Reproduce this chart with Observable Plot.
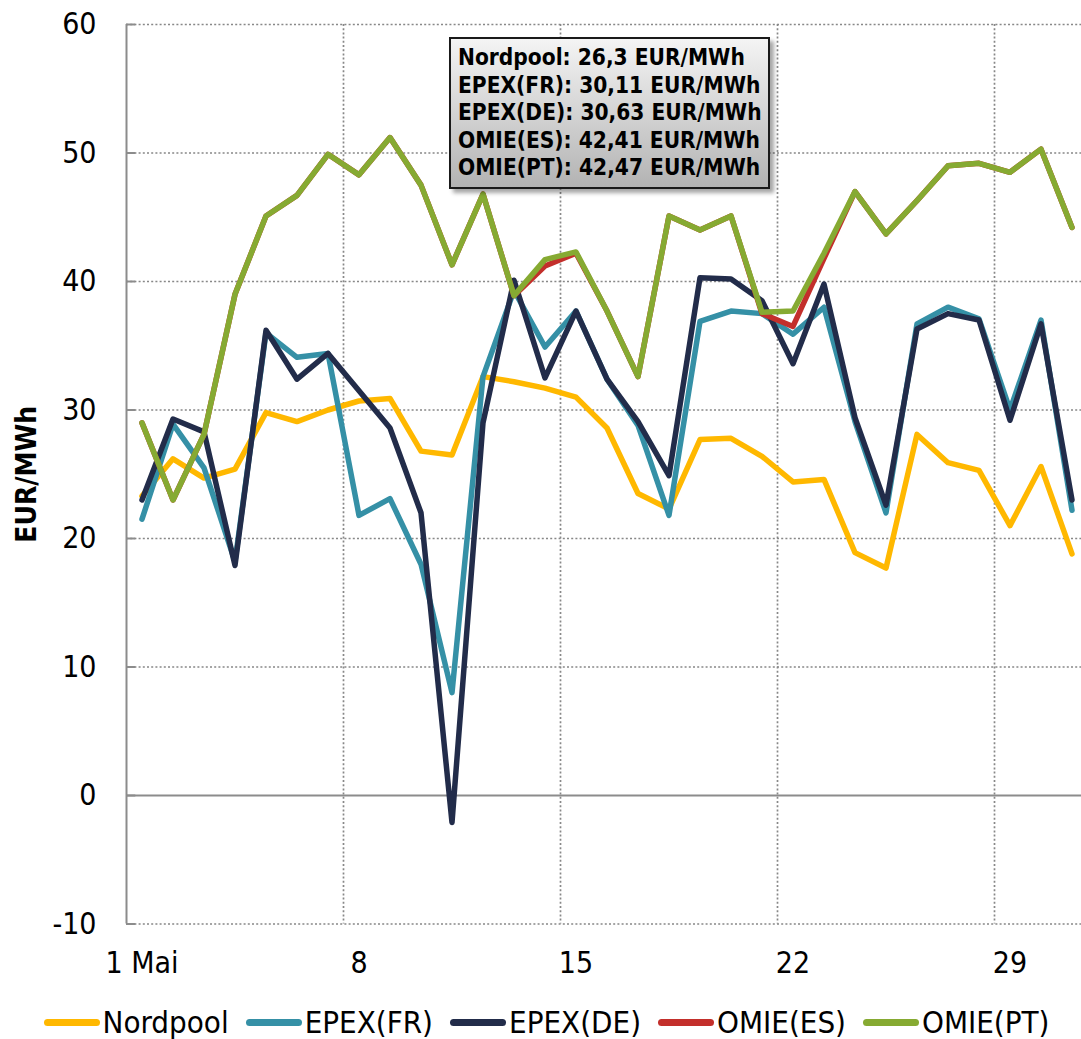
<!DOCTYPE html>
<html><head><meta charset="utf-8">
<script src="https://cdn.jsdelivr.net/npm/d3@7"></script>
<script src="https://cdn.jsdelivr.net/npm/@observablehq/plot@0.6"></script>
<style>
body{margin:0;background:#fff;font-family:"DejaVu Sans Condensed","DejaVu Sans",sans-serif;font-stretch:condensed;}
#wrap{position:relative;width:1081px;height:1039px;overflow:hidden;background:#fff;}
#legend{position:absolute;left:0;top:1004px;width:1081px;height:36px;display:flex;justify-content:center;align-items:center;gap:17px;font-size:31px;color:#000;padding-left:12px;box-sizing:border-box;}
.item{display:flex;align-items:center;gap:3px;white-space:nowrap;}
.sw{width:56px;height:7px;border-radius:3.5px;}
#tip{position:absolute;left:449px;top:37px;width:310px;height:143px;border:2px solid #1a1a1a;background:linear-gradient(#f4f4f4,#b3b3b3);box-shadow:4px 4px 4px rgba(0,0,0,.35);font-weight:bold;font-size:22.5px;line-height:27.5px;padding:5px 0 0 7px;box-sizing:content-box;color:#000;white-space:nowrap;}
</style>
</head><body>
<div id="wrap"><div id="chart"></div><div id="tip"></div><div id="legend"></div></div>
<script>
const days = [1,2,3,4,5,6,7,8,9,10,11,12,13,14,15,16,17,18,19,20,21,22,23,24,25,26,27,28,29,30,31];
const seriesNames = ["Nordpool","EPEX(FR)","EPEX(DE)","OMIE(ES)","OMIE(PT)"];
const seriesColors = ["#FFB800","#3590A6","#222C4A","#C32F2B","#86AA32"];
const nordpool = [23.3,26.2,24.7,25.4,29.8,29.1,30.0,30.7,30.9,26.8,26.5,32.6,32.2,31.7,31.0,28.6,23.5,22.3,27.7,27.8,26.4,24.4,24.6,18.9,17.7,28.1,25.9,25.3,21.0,25.6,18.8];
const epexFR = [21.5,28.9,25.5,18.2,36.0,34.1,34.4,21.8,23.1,18.0,8.0,32.6,39.3,34.9,37.7,32.4,28.8,21.8,36.9,37.7,37.5,35.9,38.0,29.1,22.0,36.7,38.0,37.1,30.0,37.0,22.2];
const epexDE = [23.0,29.3,28.3,17.9,36.2,32.4,34.4,31.5,28.6,22.0,-2.1,29.0,40.1,32.5,37.7,32.4,29.1,24.9,40.3,40.2,38.5,33.6,39.8,29.4,22.6,36.3,37.5,37.0,29.2,36.7,23.0];
const omieES = [29.0,23.0,28.1,39.0,45.1,46.7,49.9,48.3,51.2,47.5,41.3,46.8,38.9,41.2,42.2,37.7,32.6,45.1,44.0,45.1,37.5,36.5,41.8,47.0,43.7,46.3,49.0,49.2,48.5,50.3,44.2];
const omiePT = [29.0,23.0,28.1,39.0,45.1,46.7,49.9,48.3,51.2,47.5,41.3,46.8,38.9,41.7,42.3,37.7,32.6,45.1,44.0,45.1,37.6,37.7,42.2,47.0,43.7,46.3,49.0,49.2,48.5,50.3,44.2];
const averages = ["26,3","30,11","30,63","42,41","42,47"];
const unit = "EUR/MWh";
const yTicks = [-10,0,10,20,30,40,50,60];
const yTickLabels = ["-10","0","10","20","30","40","50","60"];
const xTicks = [1,8,15,22,29];
const xTickLabels = ["1 Mai","8","15","22","29"];
const xGrid = [7.5,14.5,21.5,28.5];

const allSeries = [nordpool, epexFR, epexDE, omieES, omiePT];
const data = allSeries.map((vals, i) => days.map((d, j) => ({day: d, value: vals[j], series: seriesNames[i]})));

const font = '"DejaVu Sans Condensed","DejaVu Sans",sans-serif';
const chart = Plot.plot({
  width: 1081, height: 990,
  marginTop: 24, marginLeft: 126, marginRight: 0, marginBottom: 66.5,
  x: {type: "linear", domain: [0.5, 31.5], range: [126, 1087]},
  y: {domain: [-10, 60], range: [923.5, 24]},
  color: {domain: seriesNames, range: seriesColors},
  style: {fontFamily: font, fontSize: "30px", color: "#000", background: "white", overflow: "hidden"},
  marks: [
    Plot.ruleY(yTicks.filter(v => v !== 0), {stroke: "#888", strokeWidth: 1.7, strokeDasharray: "2,2.2"}),
    Plot.ruleX(xGrid, {stroke: "#888", strokeWidth: 1.7, strokeDasharray: "2,2.2"}),
    Plot.ruleY([0], {stroke: "#8c8c8c", strokeWidth: 2}),
    Plot.ruleY(yTicks, {x1: 0.5, x2: 0.8, stroke: "#8c8c8c", strokeWidth: 2}),
    Plot.ruleX([0.5], {stroke: "#8c8c8c", strokeWidth: 2}),
    Plot.axisY({ticks: yTicks, tickFormat: d => yTickLabels[yTicks.indexOf(d)], tickSize: 0, tickPadding: 30, label: null, fontSize: 30}),
    Plot.axisX({ticks: xTicks, tickFormat: d => xTickLabels[xTicks.indexOf(d)], tickSize: 0, tickPadding: 28, label: null, fontSize: 30}),
    Plot.text([unit], {frameAnchor: "left", textAnchor: "middle", rotate: -90, dx: -99, fontWeight: "bold", fontSize: 28, fill: "#000"}),
    ...data.map(s => Plot.line(s, {x: "day", y: "value", stroke: "series", strokeWidth: 5.5}))
  ]
});
document.getElementById("chart").appendChild(chart);

const tip = d3.select("#tip");
seriesNames.forEach((n, i) => tip.append("div").text(`${n}: ${averages[i]} ${unit}`));

const legend = d3.select("#legend");
seriesNames.forEach((n, i) => {
  const it = legend.append("div").attr("class", "item");
  it.append("div").attr("class", "sw").style("background", seriesColors[i]);
  it.append("span").text(n);
});
</script>
</body></html>
